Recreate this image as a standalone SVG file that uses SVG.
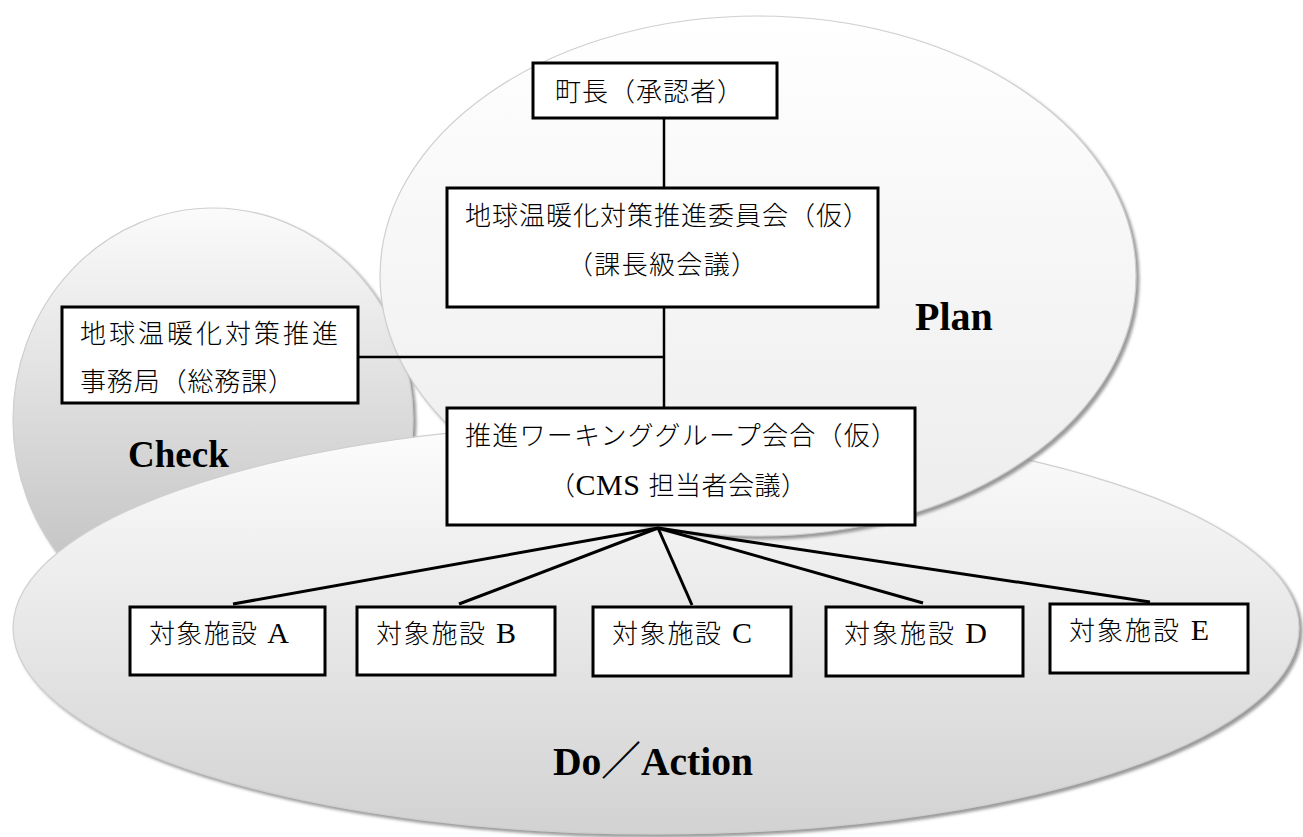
<svg xmlns="http://www.w3.org/2000/svg" width="1303" height="837" viewBox="0 0 1303 837">
<style>
.box{fill:#ffffff;stroke:#000000;stroke-width:3}
.jp{font-family:"Liberation Serif","Noto Sans CJK JP",serif;font-size:26px;font-weight:300;fill:#000000}
.lt{font-size:30px;font-weight:normal}
.lbl{font-family:"Liberation Serif","Noto Sans CJK JP",serif;font-weight:bold;fill:#000000}
.area{stroke:#cfcfcf;stroke-width:1.2;filter:url(#sh)}
.conn line{stroke:#000000;stroke-width:2.5;stroke-linecap:butt}
.conn .fan{stroke-width:3}
</style>
<defs>
<filter id="sh" x="-5%" y="-5%" width="110%" height="115%">
<feDropShadow dx="3" dy="3" stdDeviation="1.6" flood-color="#7a7a7a" flood-opacity="0.75"/>
</filter>
<linearGradient id="gCheck" x1="0" y1="0" x2="0" y2="1">
<stop offset="0" stop-color="#fbfbfb"/>
<stop offset="1" stop-color="#bababa"/>
</linearGradient>
<linearGradient id="gDo" x1="0" y1="0" x2="0" y2="1">
<stop offset="0" stop-color="#fdfdfd"/>
<stop offset="1" stop-color="#d2d2d2"/>
</linearGradient>
<linearGradient id="gPlan" x1="0" y1="0" x2="0" y2="1">
<stop offset="0" stop-color="#ffffff"/>
<stop offset="1" stop-color="#ececec"/>
</linearGradient>
</defs>
<rect width="1303" height="837" fill="#ffffff"/>

<g id="check-area">
<ellipse class="area" cx="213" cy="420" rx="200" ry="212" fill="url(#gCheck)"/>
<text class="lbl" x="128" y="467" font-size="37">Check</text>
</g>
<g id="do-area">
<ellipse class="area" cx="656" cy="628" rx="643" ry="206" fill="url(#gDo)"/>
<text class="lbl" x="553" y="775" font-size="40" textLength="200" lengthAdjust="spacingAndGlyphs">Do／Action</text>
</g>
<g id="plan-area">
<ellipse class="area" cx="758" cy="276" rx="378" ry="260" fill="url(#gPlan)"/>
<text class="lbl" x="915" y="330" font-size="40">Plan</text>
</g>

<g id="connectors" class="conn">
<line x1="664" y1="118" x2="664" y2="188"/>
<line x1="664" y1="307" x2="664" y2="408"/>
<line x1="358" y1="357" x2="664" y2="357"/>
<line class="fan" x1="658" y1="528" x2="233" y2="604"/>
<line class="fan" x1="658" y1="528" x2="459" y2="604"/>
<line class="fan" x1="658" y1="528" x2="692" y2="605"/>
<line class="fan" x1="658" y1="528" x2="923" y2="603"/>
<line class="fan" x1="658" y1="528" x2="1150" y2="602"/>
</g>

<g id="mayor">
<rect class="box" x="533" y="63" width="244" height="55"/>
<text class="jp" x="555" y="101" textLength="188" lengthAdjust="spacing">町長（承認者）</text>
</g>
<g id="committee">
<rect class="box" x="447" y="188" width="431" height="119"/>
<text class="jp" x="465" y="225" textLength="404" lengthAdjust="spacing">地球温暖化対策推進委員会（仮）</text>
<text class="jp" x="567" y="274" textLength="190" lengthAdjust="spacing">（課長級会議）</text>
</g>
<g id="secretariat">
<rect class="box" x="62" y="307" width="296" height="96"/>
<text class="jp" x="80" y="343" textLength="258" lengthAdjust="spacing">地球温暖化対策推進</text>
<text class="jp" x="80" y="391" textLength="214" lengthAdjust="spacing">事務局（総務課）</text>
</g>
<g id="working-group">
<rect class="box" x="447" y="408" width="468" height="117"/>
<text class="jp" x="465" y="445" textLength="432" lengthAdjust="spacing">推進ワーキンググループ会合（仮）</text>
<text class="jp" x="549" y="495" textLength="258" lengthAdjust="spacing">（<tspan class="lt" font-size="28">CMS </tspan>担当者会議）</text>
</g>
<g id="facility-a">
<rect class="box" x="130" y="607" width="195" height="68"/>
<text class="jp" x="149" y="643" textLength="140" lengthAdjust="spacing">対象施設<tspan class="lt"> A</tspan></text>
</g>
<g id="facility-b">
<rect class="box" x="357" y="607" width="198" height="68"/>
<text class="jp" x="376" y="643" textLength="140" lengthAdjust="spacing">対象施設<tspan class="lt"> B</tspan></text>
</g>
<g id="facility-c">
<rect class="box" x="593" y="607" width="198" height="69"/>
<text class="jp" x="612" y="643" textLength="140" lengthAdjust="spacing">対象施設<tspan class="lt"> C</tspan></text>
</g>
<g id="facility-d">
<rect class="box" x="826" y="607" width="197" height="69"/>
<text class="jp" x="844" y="643" textLength="143" lengthAdjust="spacing">対象施設<tspan class="lt"> D</tspan></text>
</g>
<g id="facility-e">
<rect class="box" x="1050" y="604" width="198" height="69"/>
<text class="jp" x="1069" y="640" textLength="140" lengthAdjust="spacing">対象施設<tspan class="lt"> E</tspan></text>
</g>
</svg>
